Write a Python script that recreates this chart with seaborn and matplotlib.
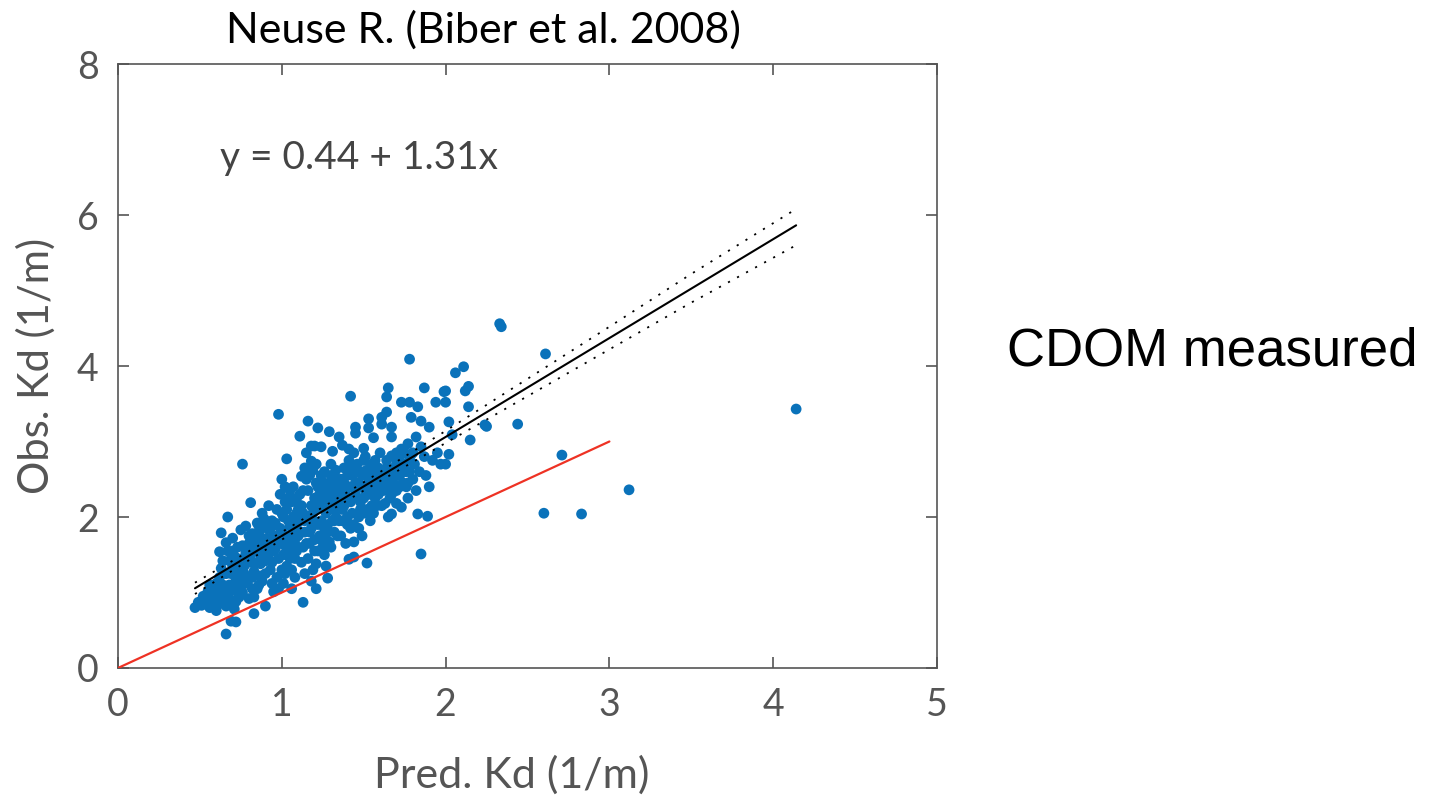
import matplotlib
matplotlib.use("Agg")
import matplotlib.pyplot as plt
import seaborn as sns
import numpy as np
import pandas as pd

# ---------------- data ----------------
pred_kd = [
    0.47, 0.49, 0.51, 0.52, 0.54, 0.55,
    0.56, 0.57, 0.58, 0.59, 0.60, 0.61, 0.62, 0.62, 0.63, 0.64, 0.60, 0.63, 0.56, 0.62, 0.63, 0.64,
    0.66, 0.69, 0.72, 0.67, 0.66, 0.75, 0.66, 0.67, 0.68, 0.69, 0.70, 0.71, 0.72, 0.73, 0.74, 0.66,
    0.68, 0.70, 0.72, 0.74, 0.73, 0.67, 0.71, 0.75,
    0.81, 0.76, 0.83, 0.83, 0.76, 0.77, 0.78, 0.79, 0.80, 0.81, 0.82, 0.83, 0.84, 0.85, 0.78, 0.80,
    0.82, 0.76, 0.84, 0.79, 0.85, 0.77,
    0.90, 0.95, 0.86, 0.87, 0.88, 0.89, 0.90, 0.91, 0.92, 0.93, 0.94, 0.86, 0.88, 0.92, 0.93, 0.95,
    0.87, 0.91, 0.94, 0.89, 0.90, 0.95,
    0.98, 1.03, 1.00, 0.97, 0.98, 0.99, 1.00, 1.01, 1.02, 1.03, 1.04, 1.05, 0.96, 0.97, 0.99, 1.01,
    1.02, 1.04, 1.05, 0.96, 1.00, 1.03, 1.05, 0.98, 1.02,
    1.13, 1.11, 1.12, 1.14, 1.06, 1.07, 1.08, 1.09, 1.10, 1.11, 1.12, 1.13, 1.14, 1.15, 1.06, 1.07,
    1.08, 1.09, 1.10, 1.11, 1.12, 1.13, 1.14, 1.15, 1.07, 1.09, 1.15, 1.06,
    1.16, 1.18, 1.15, 1.18, 1.22, 1.24, 1.20, 1.21, 1.21, 1.18, 1.16, 1.17, 1.18, 1.19, 1.20, 1.21,
    1.22, 1.23, 1.24, 1.25, 1.16, 1.17, 1.19, 1.20, 1.22, 1.23, 1.24, 1.25, 1.17, 1.19, 1.25, 1.21,
    1.29, 1.31, 1.35, 1.28, 1.29, 1.26, 1.27, 1.28, 1.29, 1.30, 1.31, 1.32, 1.33, 1.34, 1.35, 1.26,
    1.27, 1.28, 1.30, 1.31, 1.32, 1.33, 1.34, 1.35, 1.26, 1.30, 1.33, 1.27,
    1.42, 1.37, 1.45, 1.45, 1.44, 1.41, 1.44, 1.44, 1.36, 1.37, 1.38, 1.39, 1.40, 1.41, 1.42, 1.43,
    1.44, 1.45, 1.36, 1.38, 1.40, 1.42, 1.43, 1.45, 1.39, 1.41, 1.37, 1.44,
    1.53, 1.53, 1.50, 1.52, 1.49, 1.47, 1.48, 1.49, 1.50, 1.51, 1.52, 1.53, 1.54, 1.55, 1.46, 1.47,
    1.50, 1.51, 1.54, 1.55, 1.49, 1.46, 1.52, 1.55,
    1.56, 1.61, 1.61, 1.64, 1.65, 1.64, 1.56, 1.57, 1.58, 1.59, 1.60, 1.61, 1.62, 1.63, 1.64, 1.65,
    1.57, 1.59, 1.62, 1.63, 1.56, 1.60,
    1.67, 1.67, 1.67, 1.73, 1.73, 1.73, 1.67, 1.67, 1.66, 1.68, 1.69, 1.70, 1.71, 1.72, 1.74, 1.75,
    1.70, 1.66, 1.72, 1.75,
    1.78, 1.78, 1.77, 1.79, 1.79, 1.82, 1.83, 1.85, 1.85, 1.83, 1.85, 1.76, 1.78, 1.80, 1.81, 1.82,
    1.84, 1.77, 1.80,
    1.87, 1.90, 1.89, 1.94, 1.97, 1.99, 1.88, 1.92, 1.95, 1.90, 1.87,
    2.00, 2.00, 2.02, 2.04, 2.02, 2.00, 2.06, 2.11, 2.12, 2.14, 2.14, 2.15, 2.24, 2.25, 2.44, 2.33,
    2.34, 2.61, 2.71, 2.60, 2.83, 3.12, 4.14,
    # denser core
    0.58, 0.60, 0.62, 0.64, 0.66, 0.68, 0.70, 0.72, 0.74, 0.70, 0.72, 0.69,
    0.77, 0.79, 0.81, 0.83, 0.85, 0.87, 0.89, 0.91, 0.93, 0.80, 0.86, 0.90, 0.82, 0.88, 0.94,
    0.97, 0.99, 1.01, 1.03, 1.05, 1.07, 1.09, 1.11, 1.13, 1.00, 1.04, 1.08, 1.10, 1.12, 1.14, 1.06, 1.02,
    1.17, 1.19, 1.21, 1.23, 1.25, 1.27, 1.29, 1.31, 1.33, 1.35, 1.18, 1.22, 1.26, 1.30, 1.34, 1.20,
    1.24, 1.28, 1.32,
    1.37, 1.39, 1.41, 1.43, 1.45, 1.47, 1.49, 1.51, 1.53, 1.38, 1.42, 1.46, 1.50, 1.54, 1.40, 1.48,
    1.58, 1.60, 1.62, 1.64, 1.66, 1.68, 1.70, 1.72, 1.74, 1.76, 1.78, 1.58, 1.65, 1.70, 1.77,
]
obs_kd = [
    0.80, 0.87, 0.83, 0.95, 0.90, 1.02,
    0.80, 0.94, 1.05, 0.86, 1.12, 0.97, 0.85, 1.20, 1.05, 0.92, 0.76, 1.32, 1.10, 1.54, 1.79, 1.42,
    0.45, 0.62, 0.61, 2.00, 1.66, 1.83, 0.82, 0.98, 1.10, 0.90, 1.35, 1.48, 1.02, 1.60, 1.30, 1.25,
    1.42, 1.72, 1.16, 0.94, 1.45, 1.55, 0.78, 1.08,
    2.19, 2.70, 0.72, 0.94, 1.00, 1.35, 1.52, 1.12, 1.65, 1.40, 1.78, 1.28, 1.55, 1.05, 1.88, 0.92,
    1.20, 1.62, 1.70, 1.45, 1.92, 1.15,
    0.82, 1.01, 1.10, 1.38, 1.55, 1.70, 1.25, 1.85, 1.45, 1.62, 1.95, 1.78, 2.05, 2.15, 1.30, 1.75,
    1.22, 1.52, 1.12, 1.98, 1.42, 1.55,
    3.36, 2.77, 2.50, 1.20, 1.45, 1.65, 1.82, 2.00, 2.20, 1.35, 1.55, 1.75, 1.92, 2.10, 2.30, 1.12,
    1.62, 1.95, 2.35, 1.58, 1.30, 2.10, 1.45, 1.05, 2.40,
    0.87, 3.07, 2.54, 2.65, 1.30, 1.50, 1.70, 1.90, 2.10, 2.30, 1.40, 1.60, 1.80, 2.00, 2.20, 2.40,
    1.20, 1.55, 1.75, 1.95, 2.15, 2.35, 1.25, 2.50, 1.85, 2.05, 1.65, 1.05,
    3.27, 2.94, 2.85, 2.74, 3.18, 2.93, 2.94, 1.38, 1.05, 1.15, 1.45, 1.65, 1.85, 2.05, 2.25, 2.45,
    1.55, 1.75, 1.95, 2.15, 2.35, 2.55, 1.30, 1.70, 1.90, 2.30, 2.55, 1.60, 2.00, 2.62, 2.40, 2.70,
    3.13, 2.87, 3.06, 1.19, 1.67, 1.50, 1.70, 1.90, 2.10, 2.30, 2.50, 1.80, 2.00, 2.20, 2.40, 2.60,
    2.20, 2.40, 1.60, 1.95, 2.15, 2.62, 1.75, 1.95, 1.85, 2.70, 2.35, 1.35,
    3.60, 2.95, 3.19, 3.11, 2.85, 1.44, 1.47, 1.67, 1.75, 1.95, 2.15, 2.35, 2.55, 2.75, 1.85, 2.05,
    2.25, 2.45, 2.50, 2.65, 2.00, 2.20, 2.40, 2.65, 1.65, 2.90, 2.30, 1.90,
    3.30, 3.18, 2.91, 1.39, 1.75, 2.00, 2.20, 2.40, 2.60, 2.80, 2.10, 2.30, 2.50, 2.70, 2.70, 1.85,
    2.25, 2.05, 1.95, 2.40, 2.07, 2.45, 2.62, 2.15,
    3.05, 3.32, 3.23, 3.39, 3.71, 3.59, 2.05, 2.25, 2.45, 2.65, 2.85, 2.15, 2.35, 2.55, 2.75, 2.00,
    2.75, 2.30, 2.60, 2.18, 2.55, 2.42,
    3.19, 3.06, 2.81, 3.52, 2.90, 2.13, 2.04, 2.30, 2.25, 2.45, 2.65, 2.35, 2.55, 2.75, 2.45, 2.65,
    2.18, 2.60, 2.40, 2.85,
    4.09, 3.52, 2.97, 3.32, 2.83, 3.06, 3.46, 3.27, 2.93, 2.04, 1.51, 2.40, 2.60, 2.50, 2.70, 2.35,
    2.60, 2.25, 2.85,
    3.71, 3.19, 2.01, 3.52, 2.70, 3.66, 2.55, 2.75, 2.85, 2.40, 2.80,
    3.67, 3.52, 3.26, 3.09, 2.83, 2.70, 3.91, 3.99, 3.67, 3.73, 3.46, 3.02, 3.22, 3.20, 3.23, 4.56,
    4.52, 4.16, 2.82, 2.05, 2.04, 2.36, 3.43,
    # denser core
    0.90, 1.00, 0.95, 1.10, 1.02, 0.85, 1.05, 0.88, 1.20, 1.55, 1.35, 1.25,
    1.25, 1.58, 1.50, 1.62, 1.40, 1.50, 1.62, 1.72, 1.85, 1.75, 1.88, 1.95, 1.05, 1.15, 1.40,
    1.70, 1.85, 1.50, 1.72, 1.88, 2.00, 2.25, 2.15, 2.05, 2.05, 2.25, 1.45, 1.60, 1.80, 1.95, 1.65, 1.25,
    1.80, 1.95, 2.10, 2.20, 2.30, 2.05, 2.25, 2.40, 2.10, 2.25, 2.15, 2.40, 2.45, 2.55, 2.50, 1.55,
    1.70, 1.80, 1.95,
    2.10, 2.25, 2.40, 2.55, 2.30, 2.45, 2.55, 2.35, 2.45, 2.45, 2.65, 2.60, 2.75, 2.65, 1.90, 2.10,
    2.35, 2.55, 2.45, 2.65, 2.45, 2.55, 2.70, 2.55, 2.70, 2.60, 2.75, 2.15, 2.35, 2.85, 2.45,
]

fit_intercept = 0.44
fit_slope = 1.31

band_x = [0.47, 1.0, 1.5, 2.0, 2.5, 3.0, 3.5, 4.14]
band_upper = [1.13, 1.80, 2.46, 3.14, 3.83, 4.52, 5.22, 6.08]
band_lower = [0.98, 1.70, 2.35, 2.98, 3.60, 4.22, 4.84, 5.60]

one_to_one = [0.0, 3.0]

title_text = "Neuse R. (Biber et al. 2008)"
eq_text = "y = 0.44 + 1.31x"
side_text = "CDOM measured"
x_label = "Pred. Kd (1/m)"
y_label = "Obs. Kd (1/m)"
x_ticks = [0, 1, 2, 3, 4, 5]
y_ticks = [0, 2, 4, 6, 8]

# ---------------- plotting ----------------
sns.set_theme(style="white")
plt.rcParams["font.family"] = ["Lato", "DejaVu Sans"]

W, H = 1429, 801
fig = plt.figure(figsize=(W / 100, H / 100), dpi=100)
ax = fig.add_axes([118 / W, 1 - 668 / H, (937 - 118) / W, (668 - 64) / H])

df = pd.DataFrame({"pred": pred_kd, "obs": obs_kd})
sns.scatterplot(data=df, x="pred", y="obs", ax=ax, s=60, color="#0A72BA",
                linewidth=0, edgecolor="none", alpha=1.0, zorder=2)

# 1:1 line
ax.plot(one_to_one, one_to_one, color="#EE3224", lw=1.6, zorder=3)

# fitted line over data range
xs = np.array([min(pred_kd), max(pred_kd)])
ax.plot(xs, fit_intercept + fit_slope * xs, color="black", lw=1.5, zorder=4)
ax.plot(band_x, band_upper, color="black", lw=1.3, ls=(0, (1.2, 4.5)), zorder=4)
ax.plot(band_x, band_lower, color="black", lw=1.3, ls=(0, (1.2, 4.5)), zorder=4)

ax.set_xlim(0, 5)
ax.set_ylim(0, 8)
ax.set_xticks(x_ticks)
ax.set_yticks(y_ticks)
ax.set_xlabel("")
ax.set_ylabel("")
gray = "#555555"
for sp in ax.spines.values():
    sp.set_visible(True)
    sp.set_color(gray)
    sp.set_linewidth(1.2)
ax.tick_params(direction="in", length=8, width=1.2, color=gray, labelcolor=gray,
               labelsize=27, top=True, right=True, bottom=True, left=True,
               labeltop=False, labelright=False, pad=14)

fig.text(483 / W, 1 - 30 / H, title_text, ha="center", va="center",
         fontsize=31, color="black")
fig.text(512 / W, 1 - 775 / H, x_label, ha="center", va="center",
         fontsize=31, color=gray)
fig.text(36 / W, 1 - 366 / H, y_label, ha="center", va="center",
         rotation=90, fontsize=30, color=gray)
ax.text(0.125, 0.845, eq_text, transform=ax.transAxes, ha="left", va="center",
        fontsize=28, color="#444444")
fig.text(1007 / W, 1 - 352 / H, side_text, ha="left", va="center",
         fontsize=38, color="black", family=["Liberation Sans", "DejaVu Sans"])

fig.savefig("out.png", dpi=100)
